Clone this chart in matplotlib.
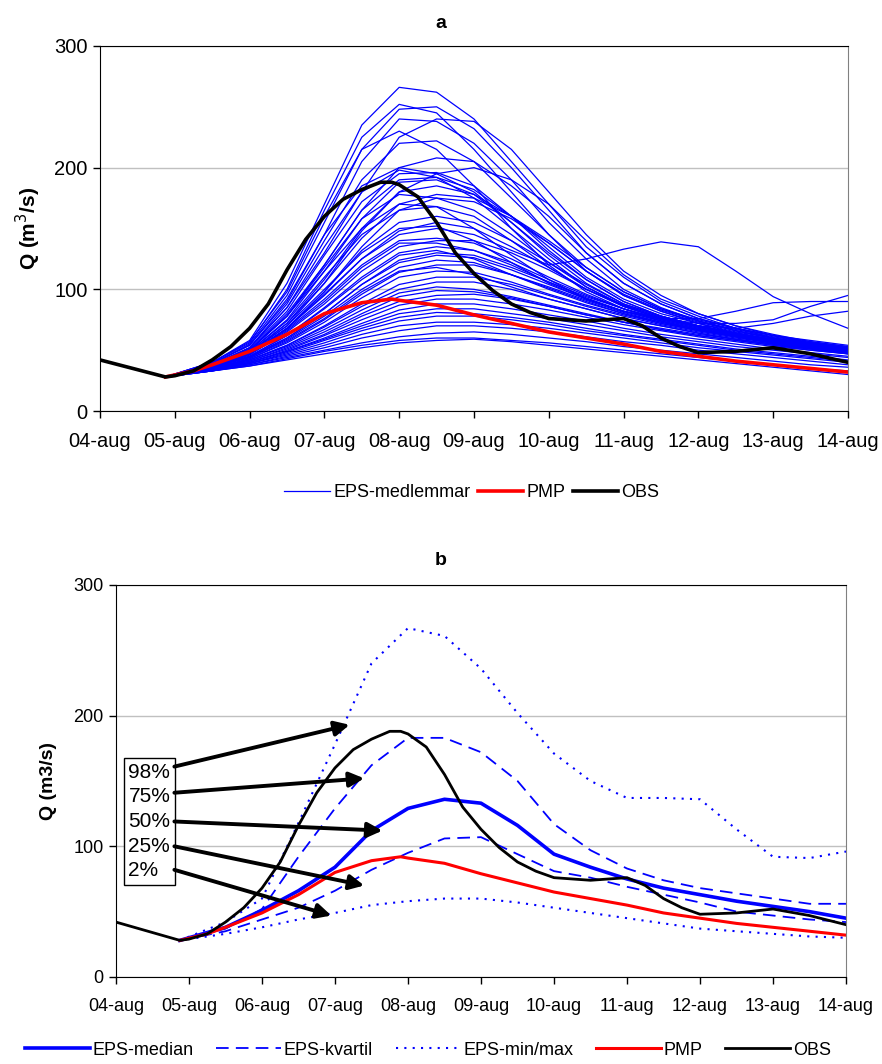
import matplotlib.pyplot as plt

plt.rcParams['font.family'] = ['Liberation Sans', 'DejaVu Sans']

# dagar från 04-aug 00:00
datum = ['04-aug', '05-aug', '06-aug', '07-aug', '08-aug', '09-aug',
         '10-aug', '11-aug', '12-aug', '13-aug', '14-aug']

# observerad tillrinning
obs_t = [0, 0.5, 0.875, 1.0, 1.25, 1.5, 1.75, 2.0, 2.25, 2.5, 2.75, 3.0, 3.25,
         3.5, 3.75, 3.9, 4.0, 4.25, 4.5, 4.75, 5.0, 5.25, 5.5, 5.75, 6.0, 6.5,
         7.0, 7.25, 7.5, 7.75, 8.0, 8.5, 9.0, 9.5, 10.0]
obs_q = [42, 34, 28, 29, 33, 42, 53, 68, 88, 116, 141, 160, 174,
         182, 188, 188, 186, 176, 155, 130, 113, 99, 88, 81, 76, 74,
         76, 70, 60, 53, 48, 49, 52, 47, 40]

# PMP
pmp_t = [0.875, 1.25, 1.5, 2.0, 2.5, 3.0, 3.5, 3.9, 4.0, 4.5, 5.0, 5.5, 6.0,
         6.5, 7.0, 7.5, 8.0, 8.5, 9.0, 9.5, 10.0]
pmp_q = [28, 33, 38, 49, 63, 80, 89, 92, 91, 87, 79, 72, 65,
         60, 55, 49, 45, 41, 38, 35, 32]

# EPS-medlemmar, 12 h steg
eps_t = [0.875, 1.5, 2.0, 2.5, 3.0, 3.5, 4.0, 4.5, 5.0, 5.5, 6.0, 6.5, 7.0,
         7.5, 8.0, 8.5, 9.0, 9.5, 10.0]
eps = [
    [28, 40, 58, 105, 170, 235, 266, 262, 240, 205, 170, 135, 110, 90, 78, 68, 60, 54, 50],
    [28, 40, 56, 100, 165, 225, 252, 245, 215, 180, 145, 115, 95, 82, 72, 64, 58, 52, 48],
    [28, 39, 55, 95, 155, 215, 248, 250, 232, 200, 165, 130, 105, 88, 76, 68, 62, 56, 52],
    [28, 39, 54, 90, 145, 205, 240, 238, 220, 190, 155, 125, 100, 85, 74, 66, 60, 55, 50],
    [28, 38, 52, 85, 130, 180, 225, 240, 238, 215, 180, 145, 115, 95, 80, 70, 62, 56, 52],
    [28, 40, 57, 98, 160, 215, 230, 215, 185, 150, 120, 98, 84, 74, 67, 61, 56, 52, 48],
    [28, 38, 50, 80, 120, 165, 200, 208, 205, 185, 160, 130, 105, 88, 76, 68, 62, 58, 54],
    [28, 39, 54, 92, 145, 185, 200, 195, 180, 155, 128, 105, 88, 78, 70, 64, 58, 54, 50],
    [28, 38, 52, 85, 135, 180, 198, 192, 175, 150, 125, 102, 86, 76, 69, 63, 58, 53, 49],
    [28, 38, 51, 82, 128, 172, 195, 196, 185, 160, 132, 108, 90, 78, 70, 64, 58, 54, 50],
    [28, 38, 50, 78, 120, 165, 190, 192, 182, 160, 135, 110, 92, 80, 72, 65, 60, 55, 51],
    [28, 37, 49, 75, 115, 158, 188, 190, 178, 155, 130, 108, 90, 78, 70, 64, 59, 54, 50],
    [28, 37, 48, 72, 108, 150, 180, 185, 178, 160, 138, 115, 95, 82, 73, 66, 60, 56, 52],
    [28, 38, 50, 78, 118, 158, 178, 175, 165, 145, 122, 102, 87, 77, 69, 63, 58, 54, 50],
    [28, 37, 48, 72, 105, 142, 170, 178, 175, 160, 140, 118, 98, 84, 75, 68, 62, 57, 53],
    [28, 38, 49, 74, 110, 145, 165, 168, 160, 140, 118, 100, 86, 76, 69, 63, 58, 54, 50],
    [28, 37, 47, 68, 98, 132, 155, 160, 155, 140, 122, 104, 88, 78, 70, 64, 59, 55, 51],
    [28, 37, 47, 68, 95, 125, 148, 155, 150, 135, 118, 100, 86, 76, 69, 63, 58, 54, 50],
    [28, 37, 47, 67, 92, 120, 140, 142, 138, 125, 110, 96, 84, 75, 68, 62, 57, 53, 49],
    [28, 36, 46, 65, 88, 115, 135, 140, 140, 130, 116, 100, 87, 77, 70, 64, 59, 55, 51],
    [28, 37, 47, 66, 90, 118, 138, 138, 132, 120, 106, 93, 82, 74, 67, 62, 57, 53, 49],
    [28, 36, 45, 62, 85, 110, 130, 135, 132, 122, 108, 95, 84, 75, 68, 62, 57, 53, 50],
    [28, 36, 45, 62, 84, 108, 128, 132, 125, 112, 100, 89, 80, 72, 66, 61, 56, 52, 48],
    [28, 36, 44, 60, 80, 104, 122, 128, 126, 116, 104, 92, 82, 74, 67, 62, 57, 53, 49],
    [28, 36, 44, 59, 78, 100, 118, 124, 122, 112, 101, 90, 80, 73, 66, 61, 56, 52, 48],
    [28, 35, 43, 57, 75, 96, 114, 120, 120, 112, 102, 91, 81, 73, 67, 62, 57, 53, 50],
    [28, 36, 44, 58, 76, 98, 115, 118, 112, 102, 92, 84, 76, 70, 64, 59, 55, 51, 47],
    [28, 35, 43, 56, 73, 93, 110, 115, 114, 106, 96, 87, 79, 72, 66, 61, 56, 52, 49],
    [28, 35, 42, 54, 70, 88, 104, 110, 110, 104, 95, 86, 78, 71, 65, 60, 56, 52, 48],
    [28, 35, 42, 54, 69, 86, 100, 106, 106, 100, 92, 84, 76, 70, 64, 59, 55, 51, 48],
    [28, 35, 42, 53, 67, 83, 97, 102, 100, 94, 87, 80, 73, 67, 62, 58, 54, 50, 47],
    [28, 35, 41, 52, 65, 80, 94, 99, 98, 93, 86, 79, 73, 67, 62, 58, 54, 51, 48],
    [28, 34, 41, 51, 63, 78, 90, 95, 96, 92, 86, 79, 73, 68, 63, 59, 55, 52, 49],
    [28, 34, 40, 50, 62, 75, 87, 92, 92, 88, 83, 77, 71, 66, 61, 57, 53, 50, 47],
    [28, 34, 40, 49, 60, 72, 83, 88, 88, 84, 79, 74, 68, 63, 59, 55, 51, 48, 45],
    [28, 34, 40, 49, 59, 70, 80, 84, 84, 80, 76, 71, 66, 61, 57, 53, 50, 47, 44],
    [28, 34, 39, 48, 58, 68, 77, 81, 80, 77, 73, 68, 63, 59, 55, 51, 48, 45, 42],
    [28, 34, 39, 47, 56, 66, 74, 78, 78, 75, 71, 66, 62, 58, 54, 50, 47, 44, 41],
    [28, 33, 39, 46, 54, 63, 70, 73, 73, 71, 68, 64, 60, 56, 52, 49, 46, 43, 40],
    [28, 33, 38, 45, 52, 60, 66, 70, 70, 68, 65, 61, 57, 54, 50, 47, 44, 41, 38],
    [28, 33, 38, 44, 50, 56, 61, 64, 65, 63, 60, 57, 53, 50, 47, 44, 41, 38, 36],
    [28, 33, 37, 43, 49, 54, 58, 60, 60, 58, 56, 53, 50, 47, 44, 41, 38, 35, 33],
    [28, 33, 37, 42, 47, 52, 56, 58, 59, 57, 54, 51, 48, 45, 42, 39, 36, 33, 30],
    [28, 37, 47, 68, 96, 125, 145, 150, 145, 132, 120, 125, 133, 139, 135, 115, 94, 80, 68],
    [28, 37, 48, 70, 100, 130, 150, 152, 140, 122, 105, 92, 82, 76, 72, 72, 75, 86, 95],
    [28, 38, 50, 78, 115, 150, 170, 168, 150, 128, 108, 92, 82, 76, 76, 82, 89, 90, 90],
    [28, 36, 45, 60, 80, 104, 124, 130, 128, 118, 106, 94, 84, 76, 70, 68, 72, 78, 82],
    [28, 38, 52, 88, 140, 190, 220, 222, 205, 175, 145, 118, 98, 84, 74, 66, 60, 55, 51],
    [28, 37, 48, 70, 105, 148, 180, 195, 200, 190, 170, 140, 112, 92, 80, 70, 63, 57, 53],
    [28, 37, 47, 68, 98, 135, 165, 175, 172, 158, 138, 115, 96, 83, 74, 67, 61, 56, 52],
]

# statistik, figur b
eps_median = [28, 38, 51, 66, 84, 112, 129, 136, 133, 116, 94, 84, 75, 68, 63, 58, 54, 50, 45]
eps_q75 = [28, 37, 52, 92, 129, 162, 183, 183, 172, 150, 117, 97, 83, 74, 68, 64, 60, 56, 56]
eps_q25 = [28, 35, 44, 53, 66, 82, 95, 106, 107, 94, 81, 76, 69, 63, 57, 50, 47, 44, 42]
eps_max = [28, 42, 60, 118, 178, 240, 267, 261, 236, 202, 171, 150, 137, 137, 136, 113, 92, 91, 96]
eps_min = [28, 33, 38, 44, 49, 55, 58, 60, 60, 57, 53, 49, 45, 41, 37, 35, 33, 31, 30]

fig = plt.figure(figsize=(8.82, 10.64), dpi=100)
ax1 = fig.add_axes([0.1134, 0.6137, 0.848, 0.3431])
ax2 = fig.add_axes([0.1315, 0.0818, 0.8277, 0.3684])

blue = '#0000ff'

# --- a ---
for i, m in enumerate(eps):
    ax1.plot(eps_t, m, color=blue, lw=0.9, label='EPS-medlemmar' if i == 0 else None)
ax1.plot(pmp_t, pmp_q, color='#ff0000', lw=2.6, label='PMP')
ax1.plot(obs_t, obs_q, color='black', lw=2.6, label='OBS')

# --- b ---
ax2.plot(eps_t, eps_median, color=blue, lw=2.6, label='EPS-median')
ax2.plot(eps_t, eps_q75, color=blue, lw=1.3, dashes=(7, 4), label='EPS-kvartil')
ax2.plot(eps_t, eps_q25, color=blue, lw=1.3, dashes=(7, 4))
ax2.plot(eps_t, eps_max, color=blue, lw=1.5, dashes=(1, 3), label='EPS-min/max')
ax2.plot(eps_t, eps_min, color=blue, lw=1.5, dashes=(1, 3))
ax2.plot(pmp_t, pmp_q, color='#ff0000', lw=2.2, label='PMP')
ax2.plot(obs_t, obs_q, color='black', lw=2.0, label='OBS')

for ax, fs in [(ax1, 14.5), (ax2, 13)]:
    ax.set_xlim(0, 10)
    ax.set_ylim(0, 300)
    ax.set_xticks(range(11))
    ax.set_xticklabels(datum)
    ax.set_yticks([0, 100, 200, 300])
    ax.tick_params(axis='both', direction='out', length=5, width=1, labelsize=fs, pad=4)
    ax.tick_params(axis='x', pad=10)
    ax.grid(axis='y', color='#c0c0c0', lw=1)
    ax.set_axisbelow(True)
    for s in ['left', 'bottom', 'top']:
        ax.spines[s].set_color('black')
    ax.spines['right'].set_color('#808080')

ax1.set_ylabel('Q (m$^3$/s)', fontsize=15, fontweight='bold', labelpad=8)
ax2.set_ylabel('Q (m3/s)', fontsize=14, fontweight='bold', labelpad=12)
fig.text(0.5, 0.978, 'a', ha='center', va='center', fontsize=14, fontweight='bold')
fig.text(0.5, 0.473, 'b', ha='center', va='center', fontsize=14, fontweight='bold')

# percentil-ruta med pilar
ax2.text(0.17, 119, '98%\n75%\n50%\n25%\n2%', fontsize=15, va='center', ha='left',
         linespacing=1.38,
         bbox=dict(boxstyle='square,pad=0.2', fc='white', ec='black', lw=1))
pilar = [((0.8, 161), (3.2, 193)),
         ((0.8, 141), (3.4, 152)),
         ((0.8, 119), (3.65, 112)),
         ((0.8, 100), (3.4, 70)),
         ((0.8, 82), (2.95, 47))]
for start, slut in pilar:
    ax2.annotate('', xy=slut, xytext=start,
                 arrowprops=dict(arrowstyle='-|>', lw=2.8, color='black',
                                 mutation_scale=22, shrinkA=0, shrinkB=0))

fig.legend(*ax1.get_legend_handles_labels(), loc='center', bbox_to_anchor=(0.535, 0.537),
           ncol=3, frameon=False, fontsize=13, handlelength=2.5, handletextpad=0.2,
           columnspacing=0.4)
fig.legend(*ax2.get_legend_handles_labels(), loc='center', bbox_to_anchor=(0.485, 0.013),
           ncol=5, frameon=False, fontsize=13, handlelength=3.6, handletextpad=0.15,
           columnspacing=1.25)

fig.savefig('out.png', dpi=100)
